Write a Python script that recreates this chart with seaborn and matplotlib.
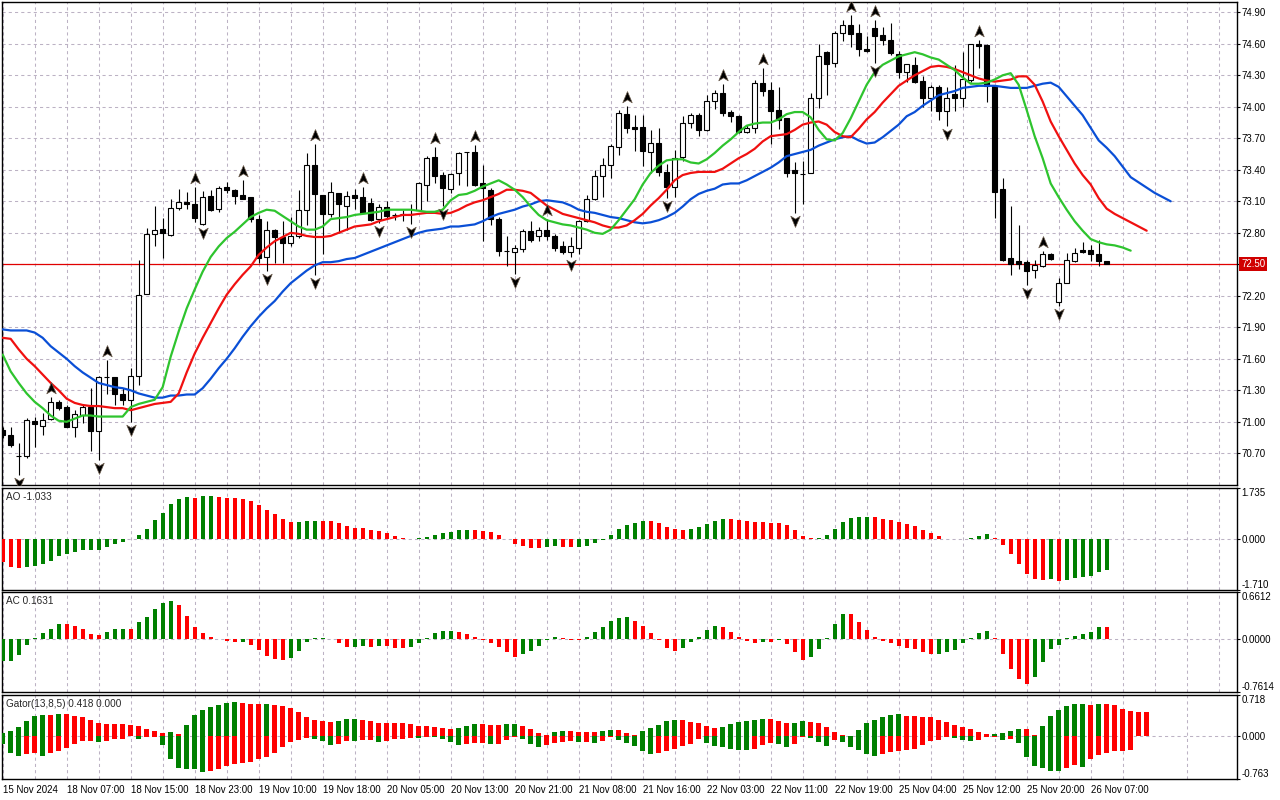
import numpy as np
import pandas as pd
import seaborn as sns
import matplotlib
matplotlib.use("Agg")
import matplotlib.pyplot as plt
from matplotlib.path import Path
from matplotlib.transforms import offset_copy

# ---------------- data (15 Nov - 26 Nov 2024) ----------------
opens = [70.92, 70.875, 70.67, 70.67, 71.01, 70.96, 71.03, 71.19, 71.14, 70.95,
         71.06, 71.14, 70.91, 71.43, 71.43, 71.26, 71.21, 71.44, 72.22, 72.79,
         72.84, 72.78, 73.04, 73.09, 73.07, 72.88, 73.15, 73.03, 73.24, 73.21,
         73.16, 73.14, 72.93, 72.57, 72.83, 72.76, 72.70, 72.77, 73.02, 73.45,
         73.16, 72.98, 73.18, 73.06, 73.16, 73.14, 73.08, 72.93, 73.05, 72.97,
         72.98, 72.98, 73.02, 73.26, 73.52, 73.35, 73.22, 73.37, 73.57, 73.57,
         73.27, 73.21, 72.93, 72.63, 72.62, 72.65, 72.82, 72.77, 72.83, 72.77,
         72.67, 72.62, 72.66, 72.91, 73.12, 73.34, 73.45, 73.62, 73.93, 73.81,
         73.81, 73.57, 73.66, 73.38, 73.24, 73.52, 73.85, 73.92, 73.78, 74.06,
         74.13, 73.95, 73.91, 73.76, 73.80, 74.23, 74.16, 73.97, 73.89, 73.40,
         73.36, 73.37, 74.08, 74.52, 74.42, 74.70, 74.78, 74.70, 74.55, 74.75,
         74.68, 74.64, 74.50, 74.33, 74.40, 74.25, 74.08, 74.19, 73.96, 74.12,
         74.08, 74.26, 74.60, 74.59, 74.20, 73.22, 72.56, 72.53, 72.52, 72.45,
         72.48, 72.60, 72.14, 72.32, 72.53, 72.64, 72.64, 72.60, 72.53]
highs = [70.95, 70.95, 70.795, 71.04, 71.05, 71.08, 71.24, 71.21, 71.16, 71.11,
         71.16, 71.32, 71.44, 71.59, 71.43, 71.32, 71.51, 72.54, 72.85, 73.06,
         72.94, 73.12, 73.22, 73.19, 73.24, 73.20, 73.21, 73.25, 73.28, 73.22,
         73.30, 73.14, 72.97, 72.91, 72.84, 72.91, 72.95, 73.21, 73.56, 73.65,
         73.16, 73.28, 73.18, 73.20, 73.22, 73.24, 73.13, 73.07, 73.10, 72.99,
         73.02, 73.07, 73.28, 73.53, 73.62, 73.38, 73.37, 73.57, 73.57, 73.64,
         73.45, 73.23, 72.95, 72.77, 72.68, 72.84, 72.91, 72.86, 72.93, 72.79,
         72.72, 72.76, 72.92, 73.16, 73.40, 73.51, 73.65, 73.97, 74.01, 73.92,
         73.92, 73.78, 73.80, 73.46, 73.59, 73.91, 73.94, 73.94, 74.11, 74.16,
         74.22, 73.97, 73.92, 73.83, 74.26, 74.37, 74.24, 74.19, 73.89, 73.47,
         73.48, 74.13, 74.60, 74.53, 74.72, 74.83, 74.87, 74.79, 74.67, 74.83,
         74.76, 74.80, 74.53, 74.41, 74.47, 74.29, 74.21, 74.21, 74.19, 74.40,
         74.52, 74.60, 74.64, 74.60, 74.20, 73.32, 73.06, 72.87, 72.54, 72.54,
         72.63, 72.61, 72.37, 72.61, 72.66, 72.71, 72.68, 72.73, 72.53]
lows = [70.85, 70.76, 70.49, 70.66, 70.76, 70.875, 71.02, 71.11, 70.95, 70.86,
        70.99, 70.72, 70.64, 71.26, 71.16, 71.16, 71.00, 71.35, 72.22, 72.67,
        72.56, 72.77, 73.02, 73.03, 72.90, 72.87, 73.01, 73.00, 73.18, 73.07,
        73.12, 72.90, 72.51, 72.44, 72.51, 72.51, 72.67, 72.75, 72.87, 72.40,
        72.60, 72.95, 72.80, 72.83, 73.03, 72.99, 72.91, 72.89, 72.94, 72.92,
        72.91, 72.88, 73.01, 73.10, 73.27, 73.06, 73.18, 73.26, 73.25, 73.25,
        72.72, 72.87, 72.58, 72.48, 72.41, 72.62, 72.71, 72.72, 72.73, 72.63,
        72.60, 72.57, 72.60, 72.90, 73.11, 73.14, 73.32, 73.54, 73.75, 73.58,
        73.44, 73.37, 73.34, 73.13, 73.14, 73.48, 73.80, 73.72, 73.77, 73.98,
        73.91, 73.86, 73.75, 73.75, 73.75, 74.10, 73.65, 73.79, 73.33, 72.99,
        73.07, 73.37, 73.99, 74.11, 74.38, 74.63, 74.57, 74.48, 74.52, 74.42,
        74.59, 74.49, 74.27, 74.24, 74.23, 74.00, 73.96, 73.87, 73.82, 73.96,
        74.00, 74.24, 74.37, 74.05, 72.94, 72.53, 72.40, 72.46, 72.30, 72.37,
        72.47, 72.54, 72.10, 72.32, 72.52, 72.61, 72.53, 72.48, 72.50]
closes = [70.87, 70.78, 70.67, 71.02, 70.98, 71.02, 71.19, 71.13, 70.95, 71.07,
          71.14, 70.91, 71.43, 71.43, 71.26, 71.21, 71.44, 72.21, 72.79, 72.83,
          72.80, 73.04, 73.09, 73.07, 72.94, 73.14, 73.02, 73.23, 73.21, 73.15,
          73.12, 72.93, 72.56, 72.83, 72.76, 72.70, 72.77, 73.02, 73.45, 73.17,
          72.98, 73.19, 73.07, 73.15, 73.13, 72.99, 72.92, 73.05, 72.96, 72.97,
          72.98, 72.98, 73.27, 73.51, 73.34, 73.23, 73.36, 73.56, 73.57, 73.26,
          73.23, 72.93, 72.63, 72.63, 72.66, 72.82, 72.73, 72.83, 72.77, 72.66,
          72.62, 72.67, 72.91, 73.12, 73.34, 73.45, 73.63, 73.94, 73.80, 73.79,
          73.58, 73.66, 73.38, 73.24, 73.51, 73.85, 73.92, 73.78, 74.06, 74.13,
          73.94, 73.91, 73.76, 73.80, 74.23, 74.15, 73.96, 73.87, 73.37, 73.37,
          73.36, 74.08, 74.48, 74.41, 74.70, 74.78, 74.69, 74.55, 74.53, 74.67,
          74.64, 74.51, 74.33, 74.41, 74.24, 74.08, 74.19, 73.96, 74.08, 74.08,
          74.26, 74.60, 74.58, 74.20, 73.19, 72.54, 72.50, 72.50, 72.44, 72.49,
          72.60, 72.55, 72.32, 72.54, 72.61, 72.62, 72.60, 72.53, 72.50]

# Alligator lines as drawn (already shifted forward 8 / 5 / 3 bars)
jaw = [71.88, 71.87, 71.87, 71.87, 71.85, 71.80, 71.72, 71.66, 71.60, 71.53,
       71.47, 71.42, 71.37, 71.35, 71.33, 71.32, 71.30, 71.27, 71.25, 71.23,
       71.23, 71.25, 71.25, 71.26, 71.26, 71.32, 71.41, 71.51, 71.60, 71.70,
       71.81, 71.91, 72.00, 72.08, 72.15, 72.24, 72.32, 72.38, 72.44, 72.49,
       72.52, 72.52, 72.53, 72.55, 72.56, 72.59, 72.62, 72.65, 72.68, 72.71,
       72.74, 72.77, 72.80, 72.82, 72.83, 72.84, 72.86, 72.86, 72.87, 72.88,
       72.91, 72.95, 72.98, 73.00, 73.02, 73.05, 73.07, 73.10, 73.11, 73.10,
       73.09, 73.06, 73.02, 73.00, 72.99, 72.97, 72.95, 72.94, 72.92, 72.90,
       72.89, 72.90, 72.92, 72.95, 72.99, 73.05, 73.12, 73.17, 73.20, 73.22,
       73.26, 73.27, 73.27, 73.30, 73.34, 73.38, 73.42, 73.47, 73.53, 73.55,
       73.57, 73.59, 73.63, 73.66, 73.69, 73.71, 73.72, 73.68, 73.65, 73.66,
       73.71, 73.77, 73.83, 73.91, 73.95, 74.01, 74.06, 74.11, 74.13, 74.15,
       74.18, 74.19, 74.20, 74.20, 74.20, 74.19, 74.18, 74.18, 74.18, 74.20,
       74.22, 74.23, 74.19, 74.10, 74.01, 73.92, 73.80, 73.68, 73.61, 73.53,
       73.43, 73.33, 73.28, 73.23, 73.18, 73.14, 73.10]
teeth = [71.80, 71.79, 71.69, 71.60, 71.53, 71.45, 71.37, 71.30, 71.22, 71.18,
         71.16, 71.15, 71.15, 71.14, 71.13, 71.13, 71.11, 71.13, 71.15, 71.17,
         71.18, 71.19, 71.27, 71.47, 71.65, 71.80, 71.94, 72.08, 72.21, 72.31,
         72.40, 72.48, 72.59, 72.66, 72.72, 72.76, 72.80, 72.79, 72.77, 72.76,
         72.76, 72.77, 72.80, 72.83, 72.86, 72.87, 72.88, 72.91, 72.93, 72.95,
         72.97, 72.97, 72.98, 72.99, 72.99, 72.98, 72.99, 73.02, 73.06, 73.09,
         73.11, 73.14, 73.17, 73.21, 73.21, 73.20, 73.18, 73.12, 73.06, 73.02,
         72.98, 72.96, 72.94, 72.92, 72.90, 72.87, 72.85, 72.85, 72.87, 72.92,
         72.98, 73.06, 73.13, 73.21, 73.30, 73.35, 73.37, 73.38, 73.38, 73.38,
         73.41, 73.46, 73.51, 73.55, 73.60, 73.67, 73.72, 73.73, 73.74, 73.78,
         73.83, 73.85, 73.86, 73.83, 73.76, 73.72, 73.71, 73.79, 73.88, 73.95,
         74.04, 74.12, 74.20, 74.25, 74.30, 74.34, 74.38, 74.39, 74.38, 74.36,
         74.33, 74.30, 74.27, 74.25, 74.24, 74.25, 74.26, 74.29, 74.29, 74.21,
         74.05, 73.86, 73.72, 73.59, 73.46, 73.35, 73.26, 73.13, 73.03, 72.98,
         72.94, 72.90, 72.86, 72.82]
lips = [71.64, 71.48, 71.37, 71.27, 71.19, 71.13, 71.06, 71.01, 71.00, 71.03,
        71.06, 71.06, 71.05, 71.05, 71.05, 71.05, 71.14, 71.17, 71.19, 71.21,
        71.33, 71.62, 71.86, 72.08, 72.26, 72.43, 72.57, 72.67, 72.75, 72.81,
        72.88, 72.95, 72.99, 73.02, 73.01, 72.96, 72.91, 72.86, 72.83, 72.83,
        72.86, 72.93, 72.94, 72.95, 72.97, 72.98, 72.99, 73.00, 73.02, 73.02,
        73.02, 73.02, 73.01, 73.00, 73.00, 73.02, 73.11, 73.16, 73.17, 73.20,
        73.24, 73.27, 73.30, 73.26, 73.21, 73.14, 73.05, 72.97, 72.92, 72.90,
        72.88, 72.87, 72.85, 72.83, 72.80, 72.79, 72.83, 72.92, 73.02, 73.12,
        73.26, 73.37, 73.44, 73.49, 73.50, 73.50, 73.47, 73.46, 73.50, 73.56,
        73.63, 73.69, 73.76, 73.82, 73.84, 73.85, 73.85, 73.88, 73.93, 73.95,
        73.95, 73.90, 73.78, 73.69, 73.68, 73.75, 73.89, 74.05, 74.21, 74.33,
        74.40, 74.44, 74.48, 74.50, 74.52, 74.50, 74.47, 74.45, 74.40, 74.35,
        74.28, 74.22, 74.22, 74.23, 74.26, 74.30, 74.32, 74.21, 73.97, 73.72,
        73.51, 73.27, 73.14, 73.02, 72.91, 72.82, 72.74, 72.71, 72.69, 72.68,
        72.66, 72.63]

fractal_up = [6, 13, 24, 30, 39, 45, 54, 59, 68, 78, 90, 95, 106, 109, 122, 130]
fractal_down = [2, 12, 16, 25, 33, 39, 47, 51, 55, 64, 71, 83, 99, 109, 118, 128, 132]

ao = [-0.77, -0.95, -0.97, -0.945, -0.91, -0.84, -0.74, -0.56, -0.51, -0.43,
      -0.38, -0.37, -0.36, -0.27, -0.17, -0.09, -0.01, 0.14, 0.35, 0.64,
      0.88, 1.18, 1.35, 1.41, 1.40, 1.45, 1.455, 1.42, 1.40, 1.385,
      1.35, 1.29, 1.15, 0.98, 0.84, 0.68, 0.585, 0.59, 0.605, 0.61,
      0.605, 0.60, 0.54, 0.44, 0.39, 0.38, 0.32, 0.27, 0.20, 0.10,
      0.045, 0.01, 0.035, 0.07, 0.135, 0.20, 0.25, 0.30, 0.31, 0.30,
      0.27, 0.24, 0.135, 0.01, -0.17, -0.24, -0.30, -0.31, -0.27, -0.24,
      -0.27, -0.28, -0.27, -0.24, -0.135, -0.03, 0.135, 0.35, 0.47, 0.55,
      0.62, 0.615, 0.54, 0.405, 0.34, 0.30, 0.35, 0.405, 0.51, 0.61,
      0.69, 0.685, 0.65, 0.62, 0.575, 0.57, 0.54, 0.535, 0.47, 0.30,
      0.10, 0.035, 0.04, 0.135, 0.35, 0.57, 0.71, 0.74, 0.745, 0.74,
      0.69, 0.65, 0.585, 0.51, 0.44, 0.32, 0.20, 0.10, 0.01, -0.01,
      0.00, 0.035, 0.10, 0.17, 0.035, -0.20, -0.50, -0.83, -1.18, -1.34,
      -1.37, -1.36, -1.41, -1.37, -1.33, -1.27, -1.24, -1.10, -1.033]
ac = [-0.32, -0.31, -0.23, -0.086, 0.014, 0.086, 0.143, 0.214, 0.21, 0.176,
      0.143, 0.071, 0.057, 0.10, 0.143, 0.145, 0.14, 0.238, 0.314, 0.428,
      0.505, 0.543, 0.486, 0.328, 0.171, 0.086, 0.029, 0.002, -0.029, -0.043,
      -0.04, -0.086, -0.157, -0.243, -0.286, -0.30, -0.27, -0.171, -0.052, 0.005,
      0.014, -0.005, -0.057, -0.114, -0.11, -0.10, -0.114, -0.10, -0.105, -0.129,
      -0.138, -0.114, -0.057, 0.014, 0.086, 0.114, 0.116, 0.10, 0.071, 0.029,
      -0.014, -0.057, -0.114, -0.195, -0.257, -0.214, -0.171, -0.10, -0.014, 0.029,
      0.014, -0.014, -0.016, 0.029, 0.10, 0.171, 0.248, 0.30, 0.314, 0.257,
      0.186, 0.086, -0.014, -0.129, -0.171, -0.129, -0.043, 0.029, 0.129, 0.186,
      0.171, 0.10, 0.029, -0.029, -0.057, -0.043, -0.045, -0.014, -0.071, -0.186,
      -0.30, -0.257, -0.143, 0.014, 0.214, 0.357, 0.355, 0.243, 0.129, 0.029,
      -0.038, -0.067, -0.10, -0.129, -0.143, -0.186, -0.214, -0.212, -0.195, -0.157,
      -0.067, 0.014, 0.086, 0.114, 0.005, -0.214, -0.424, -0.567, -0.643, -0.543,
      -0.324, -0.143, -0.086, 0.004, 0.043, 0.071, 0.10, 0.171, 0.1631]

# Gator(13,8,5): |jaw-teeth| above zero, |teeth-lips| below zero
gator_upper = [0.059, 0.088, 0.165, 0.265, 0.36, 0.37, 0.368, 0.39, 0.388, 0.353,
               0.33, 0.283, 0.23, 0.212, 0.211, 0.21, 0.19, 0.17, 0.123, 0.082,
               0.053, 0.07, 0.035, 0.194, 0.37, 0.458, 0.511, 0.547, 0.582, 0.60,
               0.58, 0.564, 0.563, 0.565, 0.547, 0.529, 0.494, 0.423, 0.335, 0.282,
               0.264, 0.247, 0.265, 0.30, 0.301, 0.283, 0.265, 0.23, 0.229, 0.228,
               0.227, 0.218, 0.177, 0.176, 0.159, 0.141, 0.124, 0.141, 0.177, 0.212,
               0.21, 0.194, 0.193, 0.212, 0.213, 0.177, 0.124, 0.053, 0.018, 0.071,
               0.088, 0.087, 0.071, 0.07, 0.069, 0.088, 0.106, 0.105, 0.053, 0.018,
               0.088, 0.141, 0.194, 0.265, 0.283, 0.282, 0.247, 0.23, 0.177, 0.141,
               0.159, 0.212, 0.247, 0.265, 0.283, 0.30, 0.299, 0.265, 0.23, 0.231,
               0.265, 0.247, 0.23, 0.159, 0.071, 0.018, 0.004, 0.106, 0.23, 0.283,
               0.336, 0.371, 0.389, 0.353, 0.352, 0.336, 0.335, 0.283, 0.247, 0.194,
               0.159, 0.124, 0.071, 0.035, 0.036, 0.053, 0.088, 0.124, 0.123, 0.018,
               0.177, 0.353, 0.459, 0.53, 0.565, 0.566, 0.548, 0.567, 0.566, 0.548,
               0.477, 0.442, 0.43, 0.418]
gator_lower = [0.141, 0.306, 0.348, 0.324, 0.306, 0.348, 0.306, 0.259, 0.212, 0.135,
               0.082, 0.081, 0.10, 0.082, 0.059, 0.058, 0.005, 0.047, 0.024, 0.012,
               0.153, 0.40, 0.558, 0.582, 0.583, 0.629, 0.611, 0.576, 0.523, 0.488,
               0.47, 0.453, 0.40, 0.364, 0.294, 0.188, 0.106, 0.065, 0.041, 0.047,
               0.082, 0.153, 0.147, 0.082, 0.085, 0.07, 0.069, 0.10, 0.082, 0.059,
               0.047, 0.029, 0.03, 0.012, 0.018, 0.053, 0.10, 0.153, 0.135, 0.118,
               0.117, 0.135, 0.134, 0.07, 0.012, 0.053, 0.135, 0.188, 0.153, 0.118,
               0.10, 0.082, 0.10, 0.099, 0.118, 0.082, 0.012, 0.065, 0.118, 0.171,
               0.259, 0.312, 0.294, 0.259, 0.224, 0.171, 0.135, 0.047, 0.118, 0.171,
               0.188, 0.224, 0.241, 0.242, 0.224, 0.153, 0.118, 0.135, 0.188, 0.135,
               0.012, 0.029, 0.10, 0.171, 0.065, 0.10, 0.188, 0.241, 0.312, 0.348,
               0.312, 0.277, 0.259, 0.241, 0.224, 0.153, 0.082, 0.065, 0.012, 0.029,
               0.065, 0.082, 0.065, 0.012, 0.011, 0.065, 0.047, 0.118, 0.365, 0.524,
               0.56, 0.613, 0.614, 0.56, 0.506, 0.542, 0.40, 0.33, 0.294, 0.259,
               0.258, 0.255]

price_ticks = [74.90, 74.60, 74.30, 74.00, 73.70, 73.40, 73.10, 72.80, 72.50,
               72.20, 71.90, 71.60, 71.30, 71.00, 70.70]
time_labels = ["15 Nov 2024", "18 Nov 07:00", "18 Nov 15:00", "18 Nov 23:00",
               "19 Nov 10:00", "19 Nov 18:00", "20 Nov 05:00", "20 Nov 13:00",
               "20 Nov 21:00", "21 Nov 08:00", "21 Nov 16:00", "22 Nov 03:00",
               "22 Nov 11:00", "22 Nov 19:00", "25 Nov 04:00", "25 Nov 12:00",
               "25 Nov 20:00", "26 Nov 07:00"]
ao_range = (-1.710, 1.735)
ac_range = (-0.7614, 0.6612)
gator_range = (-0.763, 0.718)

# ---------------- style ----------------
sns.set_theme(style="white")
plt.rcParams['font.family'] = ['Liberation Sans', 'DejaVu Sans']
plt.rcParams['font.size'] = 7

GREEN = '#008000'
RED = '#ff0000'
GRID = '#bcb2c4'
DASH = (0, (3, 3))
W, H = 1280, 800

fig = plt.figure(figsize=(W / 100, H / 100), dpi=100)
fig.patch.set_facecolor('white')


def rect(x0, y0, x1, y1):
    return [x0 / W, 1 - y1 / H, (x1 - x0) / W, (y1 - y0) / H]


ax = fig.add_axes(rect(2, 2, 1237, 485))
ax_ao = fig.add_axes(rect(2, 487.7, 1237, 589.7))
ax_ac = fig.add_axes(rect(2, 592.3, 1237, 692.3))
ax_g = fig.add_axes(rect(2, 695.3, 1237, 779.3))
panels = [ax, ax_ao, ax_ac, ax_g]

x_left, x_right = (2 - 2.67) / 8, (1237 - 2.67) / 8

# ---------------- candles ----------------
bars = np.arange(len(opens))
o = np.array(opens)
c = np.array(closes)
ax.vlines(bars, lows, highs, color='black', lw=0.8, zorder=3)
ax.bar(bars, np.abs(c - o), bottom=np.minimum(o, c), width=0.56,
       color=np.where(c >= o, 'white', 'black'), edgecolor='black',
       linewidth=0.8, zorder=4)

# alligator
for line, col in [(jaw, '#0a4fd6'), (teeth, '#f01010'), (lips, '#2ec42e')]:
    sns.lineplot(x=np.arange(len(line)), y=line, color=col, linewidth=1.6,
                 errorbar=None, ax=ax, zorder=5)

# fractals
up_mark = Path([(0, 1), (0.8, -0.9), (0, -0.4), (-0.8, -0.9), (0, 1)],
               [Path.MOVETO, Path.LINETO, Path.LINETO, Path.LINETO, Path.CLOSEPOLY])
dn_mark = Path([(0, -1), (0.8, 0.9), (0, 0.4), (-0.8, 0.9), (0, -1)],
               [Path.MOVETO, Path.LINETO, Path.LINETO, Path.LINETO, Path.CLOSEPOLY])
ax.plot(fractal_up, [highs[i] for i in fractal_up], ls='none', marker=up_mark,
        ms=8.5, color='black', mec='#6a5a4a', mew=0.5, zorder=6,
        transform=offset_copy(ax.transData, fig=fig, y=9, units='dots'))
ax.plot(fractal_down, [lows[i] for i in fractal_down], ls='none', marker=dn_mark,
        ms=8.5, color='black', mec='#6a5a4a', mew=0.5, zorder=6,
        transform=offset_copy(ax.transData, fig=fig, y=-8, units='dots'))

# last price line + label
last = closes[-1]
ax.axhline(last, color='#e00000', lw=0.9, zorder=2)
ax.annotate(f"{last:.2f}", xy=(1, last), xycoords=('axes fraction', 'data'),
            xytext=(4, 0), textcoords='offset pixels', ha='left', va='center',
            color='white', fontsize=7, annotation_clip=False, zorder=10,
            bbox=dict(boxstyle='square,pad=0.22', fc='#d00000', ec='none'))

ax.set_ylim(74.90 - (485 - 12.3) / 105, 74.90 + (12.3 - 2) / 105)
ax.set_yticks(price_ticks)
ax.set_yticklabels([f"{p:.2f}" for p in price_ticks])
ax.yaxis.grid(True, color=GRID, lw=0.75, ls=DASH)


# ---------------- oscillators ----------------
def histogram(axh, values, width, first_up=True, sign=1.0):
    vals = np.asarray(values, dtype=float)
    rising = np.r_[first_up, np.diff(vals) > 0]
    frame = pd.DataFrame({'bar': np.arange(len(vals)), 'value': sign * vals,
                          'trend': np.where(rising, 'up', 'down')})
    sns.barplot(data=frame, x='bar', y='value', hue='trend',
                palette={'up': GREEN, 'down': RED}, native_scale=True,
                width=width, dodge=False, saturation=1, errorbar=None,
                legend=False, linewidth=0, ax=axh, zorder=3)


histogram(ax_ao, ao, 0.5, first_up=False)
histogram(ax_ac, ac, 0.5, first_up=True)
histogram(ax_g, gator_upper, 0.55, first_up=True)
histogram(ax_g, gator_lower, 0.55, first_up=True, sign=-1.0)

sub_specs = [(ax_ao, ao_range, "{:.3f}", f"AO {ao[-1]:.3f}"),
             (ax_ac, ac_range, "{:.4f}", f"AC {ac[-1]:.4f}"),
             (ax_g, gator_range, "{:.3f}",
              f"Gator(13,8,5) {gator_upper[-1]:.3f} {0:.3f}")]
for axs, (lo, hi), fmt, title in sub_specs:
    axs.set_ylim(lo, hi)
    axs.set_yticks([lo, 0, hi])
    axs.set_yticklabels([fmt.format(lo), fmt.format(0), fmt.format(hi)])
    axs.axhline(0, color=GRID, lw=0.75, ls=DASH, zorder=1)
    axs.annotate(title, xy=(0, 1), xycoords='axes fraction', xytext=(4, -4),
                 textcoords='offset pixels', ha='left', va='top', fontsize=7.2)

# ---------------- shared axis styling ----------------
for axs in panels:
    axs.set_facecolor('white')
    axs.set_xlim(x_left, x_right)
    axs.set_xticks(np.arange(0, 154, 8))
    axs.set_xticks(np.arange(4, 154, 8), minor=True)
    axs.xaxis.grid(True, which='both', color=GRID, lw=0.75, ls=DASH)
    axs.set_axisbelow(True)
    axs.yaxis.tick_right()
    axs.tick_params(axis='y', direction='out', length=2.2, width=0.8, pad=1.2,
                    labelsize=7, colors='black')
    axs.tick_params(axis='x', which='both', length=0, labelbottom=False)
    axs.set_xlabel('')
    axs.set_ylabel('')
    for sp in axs.spines.values():
        sp.set_color('black')
        sp.set_linewidth(1.0)
        sp.set_visible(True)

# keep the scale extremes inside their own panel, as the terminal does
for axs in (ax_ao, ax_ac, ax_g):
    ticks = axs.yaxis.get_major_ticks()
    ticks[0].label2.set_va('bottom')
    ticks[-1].label2.set_va('top')

ax_g.set_xticks(np.arange(0, 8 * len(time_labels), 8))
ax_g.set_xticklabels(time_labels, ha='left')
ax_g.tick_params(axis='x', which='major', length=2.4, width=0.8, pad=1.5,
                 labelbottom=True, labelsize=7, colors='black')

fig.savefig("out.png", dpi=100, facecolor='white')
